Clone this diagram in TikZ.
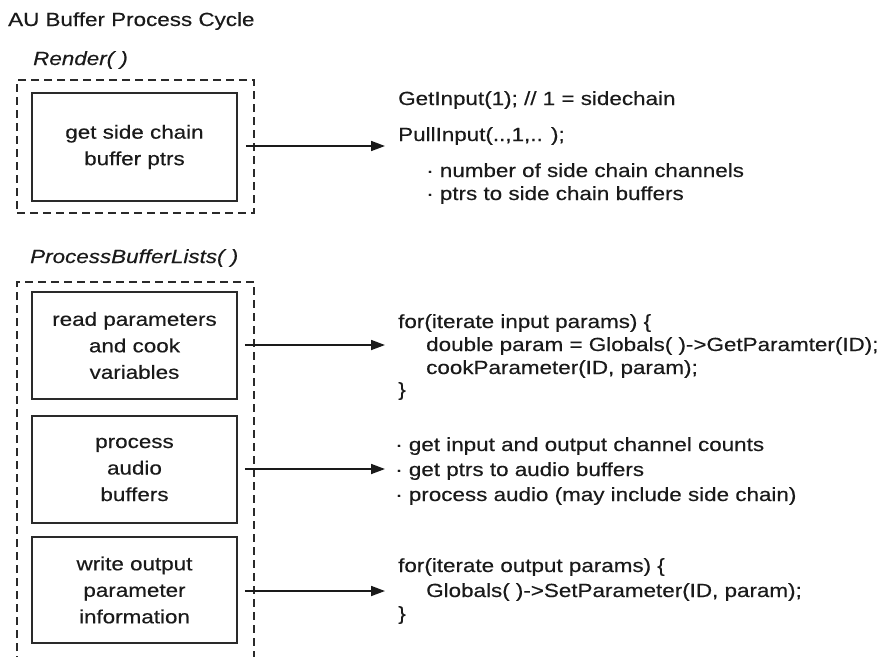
\documentclass[tikz,border=0pt]{standalone}
\usepackage{fontspec}
\setmainfont{Liberation Sans}[FakeStretch=1.18, FakeBold=0.4]
\usetikzlibrary{arrows.meta}
\definecolor{ink}{HTML}{1A1A1A}
\definecolor{frame}{HTML}{2A2A2A}
\tikzset{
  stagebox/.style={draw=frame, line width=1.5pt, minimum width=205pt,
    minimum height=107pt, align=center, inner sep=0pt,
    font=\fontsize{19}{26.5}\selectfont, text=ink},
  groupframe/.style={draw=frame, line width=1.2pt, dash pattern=on 8pt off 5pt},
  flow/.style={draw=ink, line width=1.7pt, -{Triangle[length=14pt,width=10pt]}},
  codeline/.style={anchor=base west, inner sep=0pt,
    font=\fontsize{19}{25}\selectfont, text=ink},
  heading/.style={anchor=base west, inner sep=0pt,
    font=\fontsize{19}{23}\selectfont, text=ink},
}
\begin{document}
\begin{tikzpicture}[x=1pt, y=-1pt]
\useasboundingbox (0,0) rectangle (893,656);

% title and group labels
\node[heading] (title) at (8,26) {AU Buffer Process Cycle};
\node[heading, font=\fontsize{19}{23}\selectfont\itshape] (rendername) at (33,65) {Render( )};
\node[heading, font=\fontsize{19}{23}\selectfont\itshape] (pblname) at (30,263) {ProcessBufferLists( )};

% Render( ) group
\node[groupframe, minimum width=237pt, minimum height=133pt] (renderframe) at (135.5,146.5) {};
\node[stagebox, minimum height=108pt] (sidechain) at (134.5,147) {get side chain\\buffer ptrs};

% ProcessBufferLists( ) group, open at the bottom edge
\begin{scope}
  \clip (0,0) rectangle (893,656);
  \draw[groupframe] (17,664) -- (17,282) -- (254,282) -- (254,664);
\end{scope}
\node[stagebox] (readparams) at (134.5,345.5) {read parameters\\and cook\\variables};
\node[stagebox] (processaudio) at (134.5,469.5) {process\\audio\\buffers};
\node[stagebox, minimum height=106pt] (writeparams) at (134.5,590) {write output\\parameter\\information};

% side chain calls
\node[codeline] (getinput) at (398,105) {GetInput(1); // 1 = sidechain};
\node[codeline] (pullinput) at (398,141) {PullInput(..,1,.. );};
\node[codeline] (scchannels) at (426,177) {· number of side chain channels};
\node[codeline] (scbuffers) at (426,200) {· ptrs to side chain buffers};

% input parameter loop
\node[codeline] (forin) at (398,328) {for(iterate input params) \{};
\node[codeline] (getparam) at (426,351) {double param = Globals( )->GetParamter(ID);};
\node[codeline] (cook) at (426,374) {cookParameter(ID, param);};
\node[codeline] (forinend) at (398,396) {\}};

% audio processing steps
\node[codeline] (counts) at (395,451) {· get input and output channel counts};
\node[codeline] (ptrs) at (395,476) {· get ptrs to audio buffers};
\node[codeline] (process) at (395,501) {· process audio (may include side chain)};

% output parameter loop
\node[codeline] (forout) at (398,572) {for(iterate output params) \{};
\node[codeline] (setparam) at (426,597) {Globals( )->SetParameter(ID, param);};
\node[codeline] (foroutend) at (398,620) {\}};

% connectors
\coordinate (sidechainIn) at (385,146);
\coordinate (readIn) at (385,345);
\coordinate (processIn) at (385,469);
\coordinate (writeIn) at (385,591);
\draw[flow] ([xshift=8pt]sidechain.east |- sidechainIn) -- (sidechainIn);
\draw[flow] ([xshift=7pt]readparams.east |- readIn) -- (readIn);
\draw[flow] ([xshift=7pt]processaudio.east |- processIn) -- (processIn);
\draw[flow] ([xshift=7pt]writeparams.east |- writeIn) -- (writeIn);
\end{tikzpicture}
\end{document}
